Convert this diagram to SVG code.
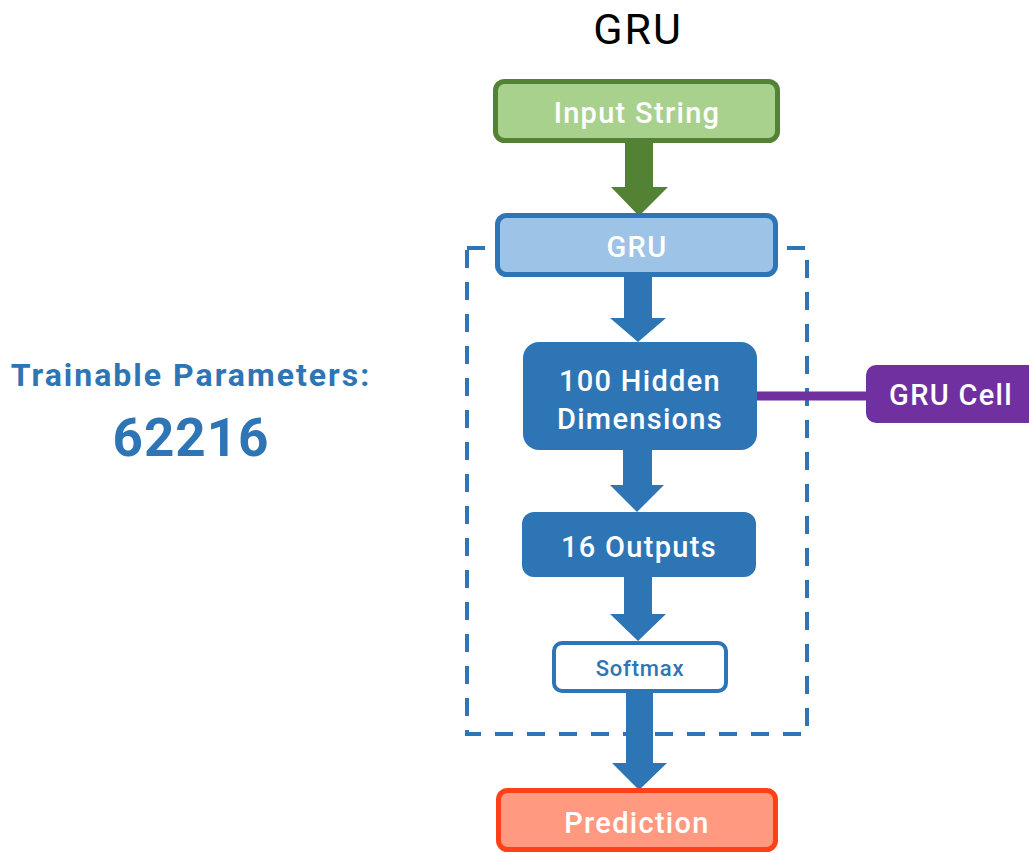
<svg xmlns="http://www.w3.org/2000/svg" width="1029" height="853" viewBox="0 0 1029 853">
<style>
text{font-family:Roboto,"Liberation Sans",sans-serif;text-anchor:middle}
.w{fill:#fff;font-weight:500;font-size:29px;letter-spacing:1.3px}
.b{fill:#2E75B6;font-weight:700}
.ab{fill:#2E75B6}
</style>
<rect width="1029" height="853" fill="#fff"/>
<text x="638" y="44" font-size="43" letter-spacing="2" fill="#000">GRU</text>
<g id="params">
<text class="b" x="191" y="386" font-size="32" letter-spacing="2">Trainable Parameters:</text>
<text class="b" x="191" y="456" font-size="53" letter-spacing="1">62216</text>
</g>
<g id="container">
<rect x="467" y="248" width="340" height="486" fill="none" stroke="#2E75B6" stroke-width="4" stroke-dasharray="18 14"/>
</g>
<g id="connectors">
<polygon points="625,143 653,143 653,187 668,187 639,216 611,187 625,187" fill="#548235"/>
<polygon class="ab" points="624,277 652,277 652,318 666,318 638,342 610,318 624,318"/>
<polygon class="ab" points="623,450 652,450 652,485 664,485 637,512 610,485 623,485"/>
<polygon class="ab" points="624,577 652,577 652,614 666,614 638,641 610,614 624,614"/>
<polygon class="ab" points="626,693 653,693 653,763 667,763 639,790 612,763 626,763"/>
<line x1="757" y1="396" x2="870" y2="396" stroke="#7030A0" stroke-width="9"/>
</g>
<g id="input">
<rect x="495.5" y="81.5" width="282" height="59" rx="9" fill="#A9D18E" stroke="#548235" stroke-width="5"/>
<text class="w" x="637" y="123" font-size="31">Input String</text>
</g>
<g id="gru">
<rect x="497.5" y="215.5" width="278" height="59" rx="9" fill="#9DC3E6" stroke="#2E75B6" stroke-width="5"/>
<text class="w" x="637" y="257">GRU</text>
</g>
<g id="hidden">
<rect x="523" y="342" width="234" height="108" rx="16" fill="#2E75B6"/>
<text class="w" x="640" y="391">100 Hidden</text>
<text class="w" x="640" y="429">Dimensions</text>
</g>
<g id="outputs">
<rect x="522" y="512" width="234" height="65" rx="12" fill="#2E75B6"/>
<text class="w" x="639" y="557">16 Outputs</text>
</g>
<g id="softmax">
<rect x="554" y="643" width="172" height="48" rx="8" fill="#fff" stroke="#2E75B6" stroke-width="4"/>
<text x="640" y="676" font-size="22" font-weight="500" letter-spacing="0.8" fill="#2E75B6">Softmax</text>
</g>
<g id="prediction">
<rect x="498.5" y="790.5" width="277" height="59" rx="9" fill="#FF9980" stroke="#FF4019" stroke-width="5"/>
<text class="w" x="637" y="833" font-size="31">Prediction</text>
</g>
<g id="grucell">
<rect x="866" y="365" width="180" height="58" rx="10" fill="#7030A0"/>
<text class="w" x="951" y="405" text-anchor="middle">GRU Cell</text>
</g>
</svg>
